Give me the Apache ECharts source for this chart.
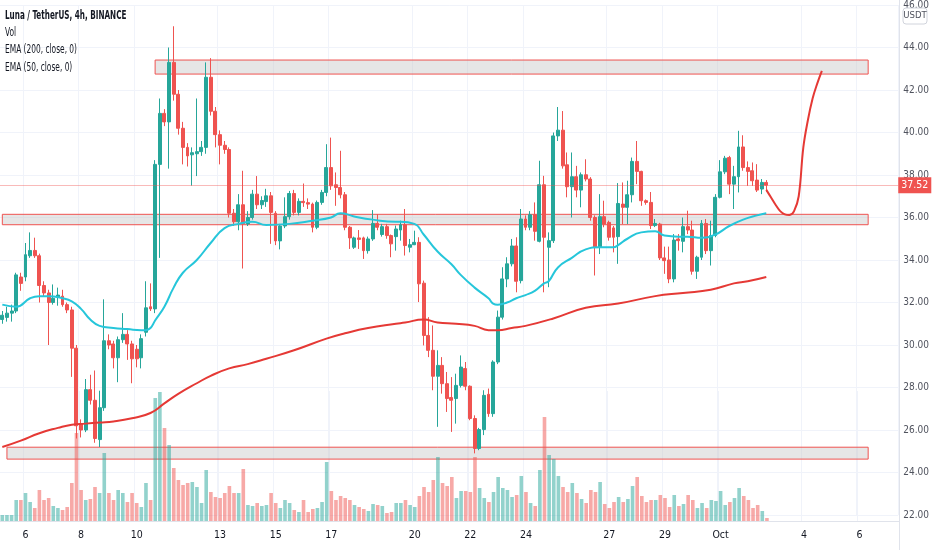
<!DOCTYPE html>
<html><head><meta charset="utf-8">
<script src="https://cdn.jsdelivr.net/npm/echarts@6/dist/echarts.min.js"></script>
<style>html,body{margin:0;padding:0;background:#fff}#c{width:932px;height:550px}</style>
</head><body><div id="c"></div>
<script>
// ---- data ----
const candles = [ // [open, high, low, close]
[31.2,31.6,31.0,31.4],[31.3,31.8,31.1,31.5],[31.5,31.9,31.1,31.6],[31.6,33.4,31.5,33.3],[33.2,33.4,32.55,32.9],
[33.2,34.8,33.0,34.25],[34.2,35.3,34.1,34.45],[34.45,35.05,34.1,34.2],[34.2,34.3,32.0,32.8],[32.8,33.0,32.3,32.45],
[32.45,32.6,30.0,32.0],[32.0,32.85,31.9,32.2],[32.25,32.7,31.85,32.35],[32.3,32.6,31.8,31.9],[31.9,32.0,31.5,31.65],
[31.65,31.8,28.5,29.85],[29.85,30.0,25.6,26.2],[26.3,26.5,25.65,26.0],[26.0,28.4,25.9,27.9],[27.9,28.6,27.2,27.4],
[27.4,28.8,25.4,25.6],[25.55,27.85,25.2,27.05],[27.05,32.15,26.9,30.2],[30.2,30.5,29.8,30.0],[30.05,30.2,28.9,29.4],
[29.4,30.4,28.25,30.25],[30.25,31.5,30.1,30.5],[30.5,30.7,29.3,30.05],[30.05,30.2,28.2,29.35],[29.8,30.0,28.95,29.35],
[29.4,30.5,28.9,30.3],[30.6,33.0,30.4,31.75],[31.8,32.9,31.6,31.7],[31.7,38.7,31.5,38.5],[38.5,41.6,34.1,40.9],
[40.9,41.1,40.3,40.5],[40.5,44.0,38.3,43.3],[43.3,45.0,41.5,41.8],[41.8,42.0,39.9,40.2],[40.2,40.5,38.5,39.3],
[39.3,39.5,38.4,38.9],[38.95,39.3,37.5,39.05],[39.0,41.6,37.95,39.1],[39.1,39.6,38.9,39.3],[39.3,43.3,39.0,42.6],
[42.6,43.5,40.8,41.0],[41.0,41.2,39.3,39.9],[39.9,40.1,38.5,39.4],[39.4,39.6,39.0,39.2],[39.2,39.3,36.0,36.2],
[36.2,36.4,35.6,35.8],[35.8,37.1,35.4,36.6],[36.6,38.2,33.6,35.7],[35.7,36.3,35.6,36.0],[36.0,37.3,35.9,37.1],
[37.1,37.95,36.4,36.6],[36.6,37.0,36.4,36.8],[36.75,37.35,36.5,37.02],[37.02,37.2,34.76,36.24],[36.2,36.3,34.7,34.9],
[34.9,35.7,34.5,35.6],[35.6,36.95,35.5,36.04],[36.04,37.25,35.9,37.13],[37.13,37.3,36.1,36.24],[36.24,36.9,36.1,36.76],
[36.76,37.6,36.5,36.7],[36.7,36.9,36.4,36.63],[36.63,36.7,35.3,35.54],[35.54,36.8,35.45,36.71],[36.71,37.3,36.6,37.18],
[37.18,39.45,37.0,38.35],[38.35,39.76,37.3,37.49],[37.54,38.12,36.55,37.41],[37.41,39.14,36.9,37.07],[37.07,37.2,35.4,35.54],
[35.54,35.6,34.52,35.04],[34.6,35.1,34.52,35.04],[35.04,35.41,34.52,34.97],[35.04,35.1,34.05,34.44],[34.44,35.1,34.3,34.99],
[34.99,36.35,34.9,35.72],[35.72,36.16,35.4,35.54],[35.2,35.7,35.1,35.57],[35.57,35.7,35.0,35.15],[35.15,35.2,34.13,34.76],
[35.1,35.62,34.44,35.46],[35.41,35.85,34.91,35.66],[35.66,36.4,34.21,34.68],[34.6,34.99,34.36,34.72],[34.72,35.38,34.7,34.83],
[34.83,35.07,32.02,32.88],[32.91,33.03,29.98,30.45],[30.45,31.31,29.43,29.75],[29.75,30.92,27.87,28.53],[28.53,29.75,26.15,29.04],
[29.04,29.43,27.71,28.18],[28.18,28.73,26.85,27.48],[27.53,28.49,25.91,27.4],[27.48,28.65,26.3,28.1],[28.1,29.51,28.0,28.96],
[28.89,29.2,27.87,28.06],[28.06,28.1,26.46,26.54],[26.54,26.69,24.9,25.13],[25.13,26.1,25.05,26.02],[26.02,27.87,25.76,27.63],
[27.68,27.95,26.62,26.77],[26.77,29.28,26.62,29.2],[29.2,31.62,29.1,31.31],[31.31,33.66,31.2,33.11],[33.11,34.13,32.72,33.82],
[33.82,34.99,33.7,34.66],[34.66,35.07,32.48,33.0],[33.03,36.4,32.9,35.93],[35.93,36.1,35.4,35.54],[35.54,36.3,35.4,36.13],
[36.13,36.71,34.91,35.35],[34.88,38.67,34.83,37.54],[37.54,37.96,32.48,35.07],[34.6,35.3,32.72,34.91],[34.91,40.0,34.8,39.84],
[39.84,41.2,39.6,40.11],[40.11,41.01,38.3,38.43],[38.48,39.06,36.95,37.45],[37.45,39.06,36.0,37.92],[37.92,38.43,36.95,37.29],
[37.29,38.12,36.48,38.01],[38.01,38.74,37.7,37.81],[37.81,37.9,35.85,36.0],[36.0,36.1,33.27,34.6],[34.6,37.1,34.28,36.04],
[36.04,36.79,35.54,35.69],[35.77,35.85,34.91,35.07],[35.51,35.6,34.36,35.07],[35.1,37.62,33.82,36.66],[36.63,37.65,35.69,36.48],
[36.48,37.73,35.69,37.07],[37.07,38.82,36.71,38.64],[38.64,39.6,37.57,38.17],[38.17,38.2,36.55,36.79],[36.79,36.85,36.6,36.71],
[36.71,37.2,35.46,35.62],[35.62,35.93,35.55,35.72],[35.69,35.75,34.0,34.1],[34.1,34.63,33.35,33.97],[34.0,34.63,32.91,33.11],
[33.11,35.22,32.95,34.94],[34.99,35.22,34.44,34.91],[34.88,36.0,34.36,35.57],[35.57,36.32,35.22,35.41],[35.41,35.85,33.31,33.47],
[33.47,34.2,33.11,34.13],[34.13,35.88,34.0,35.72],[35.72,35.93,34.28,34.44],[34.44,35.85,33.74,35.15],[35.15,37.1,35.07,36.95],
[36.95,38.7,36.9,38.15],[38.15,38.9,38.04,38.79],[38.82,38.9,37.1,37.57],[37.57,38.43,36.4,37.92],[37.92,40.08,37.18,39.32],
[39.32,39.87,38.2,38.35],[38.35,38.64,37.49,38.17],[38.2,38.59,37.49,37.73],[37.76,38.51,37.2,37.29],[37.34,37.81,37.1,37.65],
[37.65,37.76,37.23,37.52]
];
const volume = [
6,6,6,21,21,28,19,13,31,21,23,15,13,11,14,38,88,31,21,22,34,28,68,28,21,31,28,19,28,
18,14,38,21,123,129,93,76,53,41,36,38,39,34,18,51,29,24,23,28,35,28,28,52,16,15,18,15,
16,28,18,13,21,18,11,9,21,9,12,13,19,59,30,21,25,23,21,16,14,12,10,17,16,15,8,9,
18,18,21,16,14,25,34,29,41,64,38,35,44,23,30,30,29,64,33,23,19,29,44,33,31,24,26,45,
29,18,15,51,104,66,62,45,34,29,38,28,22,18,31,29,39,17,13,19,24,19,22,35,44,25,19,21,
21,26,23,14,26,15,17,26,21,13,18,13,21,20,30,16,19,23,33,25,21,13,16,10,3
];
const ema50 = [[0,31.9],[3,31.8],[6,32.2],[8,32.3],[10,32.3],[13,32.2],[15,32.05],[17,31.7],[19,31.2],[21,30.9],[24,30.8],[27,30.75],[30,30.7],[31,30.7],[32,30.8],[33,31.15],[35,31.8],[37,32.7],[39,33.4],[42,34.0],[45,34.8],[48,35.5],[51,35.7],[54,35.8],[57,35.65],[62,35.7],[67,35.85],[71,36.0],[73,36.2],[76,36.05],[80,35.9],[85,35.8],[86,35.8],[89,35.7],[91,35.2],[94,34.4],[97,33.8],[99,33.3],[102,32.7],[105,32.2],[106,31.95],[107,31.9],[109,32.0],[111,32.2],[113,32.35],[115,32.55],[117,32.9],[118,33.0],[120,33.65],[123,34.1],[126,34.5],[129,34.6],[132,34.6],[133,34.7],[135,35.0],[138,35.3],[141,35.35],[143,35.15],[146,35.1],[148,35.1],[151,35.05],[154,35.2],[157,35.6],[160,35.9],[163,36.1],[165,36.2]];
const ema200 = [[0,25.2],[4,25.5],[8,25.85],[12,26.1],[15,26.25],[18,26.3],[21,26.35],[24,26.4],[28,26.55],[32,26.8],[35,27.25],[38,27.7],[42,28.2],[45,28.55],[49,28.9],[53,29.1],[57,29.35],[63,29.75],[70,30.3],[74,30.55],[79,30.8],[85,31.0],[87,31.06],[91,31.2],[94,31.06],[98,31.0],[102,30.9],[105,30.7],[107,30.7],[110,30.8],[113,30.9],[119,31.25],[126,31.75],[133,31.95],[141,32.3],[147,32.45],[153,32.6],[158,32.9],[161,33.0],[165,33.2]];
const projection = [[165,37.3],[166,36.95],[167,36.6],[168,36.3],[169,36.15],[170,36.12],[171,36.3],[172,37.0],[173,39.3],[174,40.6],[175,41.6],[176,42.3],[177,42.9]];
const zones = [ // [fromSlot, toSlot, low, high]
  [33,187,42.75,43.41],[0,187,35.66,36.15],[1,187,24.63,25.19]
];
const lastPrice = 37.52;
const tickDates  = ['09-06','09-08','09-10','09-13','09-15','09-17','09-20','09-22','09-24','09-27','09-29','10-01','10-04','10-06'];
const tickLabels = ['6','8','10','13','15','17','20','22','24','27','29','Oct','4','6'];
const legendLines = ['Vol','EMA (200, close, 0)','EMA (50, close, 0)'];
const title = 'Luna / TetherUS, 4h, BINANCE';
const slotCount = 194;

// ---- build ----
const pad = n => (n<10?'0':'')+n;
const categories = [];
const t0 = Date.UTC(2021,8,5,4);
for (let i=0;i<slotCount;i++){
  const d = new Date(t0 + i*4*3600*1000);
  categories.push(pad(d.getUTCMonth()+1)+'-'+pad(d.getUTCDate())+' '+pad(d.getUTCHours())+':00');
}
const tickMap = {};
tickDates.forEach((d,i)=>{ tickMap[d+' 00:00'] = tickLabels[i]; });
const isTick = (idx, val) => tickMap[val] !== undefined;

const UP='#26a69a', DOWN='#ef5350';
const kData = candles.map(c => [c[0], c[3], Math.min(c[2],c[0],c[3]), Math.max(c[1],c[0],c[3])]);
const volData = volume.map((v,i)=>({value:v, itemStyle:{color: candles[i][3]>=candles[i][0] ? 'rgba(38,166,154,0.5)' : 'rgba(239,83,80,0.5)'}}));

const FONT = '"Liberation Sans Narrow","DejaVu Sans Condensed","Roboto Condensed",sans-serif';
const legendGraphics = [
  {type:'text', x:5, y:16, scaleX:0.7, style:{text:title, fill:'#131722', font:'bold 11.5px '+FONT, textVerticalAlign:'middle'}, z:10}
].concat(legendLines.map((t,i)=>({type:'text', x:5, y:33+i*17.5, scaleX:0.72, style:{text:t, fill:'#131722', font:'11.5px '+FONT, textVerticalAlign:'middle'}, z:10})));

const chart = echarts.init(document.getElementById('c'), null, {renderer:'canvas'});
chart.setOption({
  animation:false,
  backgroundColor:'#ffffff',
  grid:[
    {left:0, right:33, top:3.8, bottom:35},
    {left:0, right:33, top:391, bottom:29}
  ],
  xAxis:[
    {type:'category', gridIndex:0, data:categories, boundaryGap:true,
     axisLine:{show:false}, axisTick:{show:false}, axisLabel:{show:false},
     splitLine:{show:true, interval:isTick, lineStyle:{color:'#f0f3fa', width:1}}},
    {type:'category', gridIndex:1, data:categories, boundaryGap:true,
     axisLine:{show:true, lineStyle:{color:'#e0e3eb'}}, axisTick:{show:false},
     axisLabel:{interval:isTick, formatter:v=>tickMap[v]||'', color:'#131722', fontSize:10.5, fontFamily:FONT, margin:9},
     splitLine:{show:true, interval:isTick, lineStyle:{color:'#f0f3fa', width:1}}}
  ],
  yAxis:[
    {type:'value', gridIndex:0, position:'right', min:22, max:46, interval:2,
     axisLine:{show:false}, axisTick:{show:false},
     axisLabel:{formatter:v=>v.toFixed(2), color:'#50535e', fontSize:10, fontFamily:FONT, margin:5, align:'left'},
     splitLine:{show:true, lineStyle:{color:'#f0f3fa', width:1}}},
    {type:'value', gridIndex:1, min:0, max:130, show:false, splitLine:{show:false}}
  ],
  graphic:[
    {type:'line', shape:{x1:899.5,y1:0,x2:899.5,y2:550}, style:{stroke:'#e0e3eb', lineWidth:1}, z:1},
    {type:'rect', shape:{x:903,y:8,width:24,height:16,r:3}, style:{fill:'#fff', stroke:'#d1d4dc', lineWidth:1}, z:10},
    {type:'text', x:915, y:16, style:{text:'USDT', fill:'#50535e', font:'9.5px '+FONT, textAlign:'center', textVerticalAlign:'middle'}, z:11}
  ].concat(legendGraphics),
  series:[
    {type:'bar', name:'Vol', xAxisIndex:1, yAxisIndex:1, data:volData, barWidth:'78%', z:1, silent:true},
    {type:'candlestick', name:'LUNAUSDT', xAxisIndex:0, yAxisIndex:0, data:kData, barWidth:'74%', z:3,
     itemStyle:{color:UP, color0:DOWN, borderColor:UP, borderColor0:DOWN, borderWidth:1},
     markArea:{silent:true, itemStyle:{color:'rgba(200,200,200,0.45)', borderColor:'#ef5350', borderWidth:1},
       data: zones.map(z=>[{xAxis:categories[z[0]], yAxis:z[2]},{xAxis:categories[z[1]], yAxis:z[3]}])},
     markLine:{silent:true, symbol:['none','none'], animation:false,
       lineStyle:{color:'rgba(239,83,80,0.4)', type:'solid', width:1},
       label:{show:true, position:'end', distance:0, formatter:()=>lastPrice.toFixed(2), color:'#fff', backgroundColor:'#ef5350',
              padding:[3,3,2,3], fontSize:10.5, fontFamily:FONT},
       data:[{yAxis:lastPrice}]}
    },
    {type:'line', name:'EMA200', xAxisIndex:0, yAxisIndex:0, data:ema200, smooth:true, showSymbol:false, z:4,
     lineStyle:{color:'#e53935', width:2}},
    {type:'line', name:'EMA50', xAxisIndex:0, yAxisIndex:0, data:ema50, smooth:true, showSymbol:false, z:4,
     lineStyle:{color:'#26c6da', width:2}},
    {type:'line', name:'Projection', xAxisIndex:0, yAxisIndex:0, data:projection, smooth:0.4, showSymbol:false, z:5,
     lineStyle:{color:'#e53935', width:2}}
  ]
});
</script></body></html>
